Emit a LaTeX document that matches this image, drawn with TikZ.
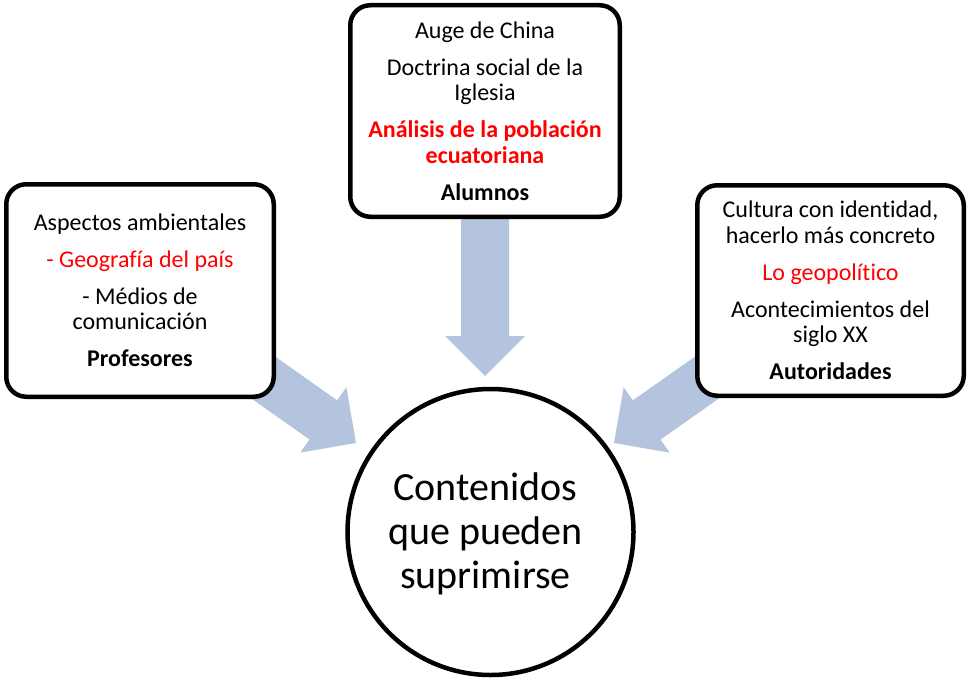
\documentclass[tikz,border=0pt]{standalone}
\usepackage{fontspec}
\setmainfont{Carlito}[Ligatures=NoCommon]
\usetikzlibrary{calc}
\pgfdeclarelayer{bg}
\pgfsetlayers{bg,main}
\definecolor{arrowblue}{RGB}{180,196,222}
\definecolor{pured}{RGB}{255,0,0}
\newcommand\blockarrowdraw[2]{%
  \coordinate (hA) at ($(#2)!40pt!(#1)$);
  \fill[blockarrow] ($(#1)!24pt!90:(#2)$) -- ($(hA)!24pt!90:(#2)$) -- ($(hA)!40pt!90:(#2)$) -- (#2)
    -- ($(hA)!40pt!-90:(#2)$) -- ($(hA)!24pt!-90:(#2)$) -- ($(#1)!24pt!-90:(#2)$) -- cycle;
}
\begin{document}
\begin{tikzpicture}[x=1pt,y=-1pt,
  box/.style={draw=black, line width=4.5pt, fill=white, rounded corners=20pt, align=center,
    font=\fontsize{24}{25.5}\selectfont, inner sep=0pt},
  hub/.style={draw=black, line width=4.5pt, fill=white, circle, inner sep=0pt, minimum size=286pt},
  hubtext/.style={align=center, font=\fontsize{40}{44}\selectfont, inner sep=0pt},
  blockarrow/.style={fill=arrowblue}]
\useasboundingbox (0,0) rectangle (968,677);

\node[box, minimum width=267.5pt, minimum height=212.5pt] (left) at (140,290.5)
  {Aspectos ambientales\\[11.5pt]
   {\color{pured}- Geografía del país}\\[11.5pt]
   - Médios de\\ comunicación\\[11.5pt]
   \textbf{Profesores}};

\node[box, minimum width=269.5pt, minimum height=211.5pt] (top) at (485,111)
  {Auge de China\\[11.5pt]
   Doctrina social de la\\ Iglesia\\[11.5pt]
   {\color{pured}\textbf{Análisis de la población}}\\ {\color{pured}\textbf{ecuatoriana}}\\[11.5pt]
   \textbf{Alumnos}};

\node[box, minimum width=266.5pt, minimum height=210.5pt] (right) at (830.5,290.5)
  {Cultura con identidad,\\ hacerlo más concreto\\[11.5pt]
   {\color{pured}Lo geopolítico}\\[11.5pt]
   Acontecimientos del\\ siglo XX\\[11.5pt]
   \textbf{Autoridades}};

\node[hub] (hub) at (490.5,532) {};
\node[hubtext] (hublabel) at ($(hub.center)+(-5,2)$) {Contenidos\\ que pueden\\ suprimirse};

\coordinate (tipT) at (485,376);
\coordinate (tipL) at (356,443);
\coordinate (tipR) at (614,443);

\begin{pgfonlayer}{bg}
  \blockarrowdraw{top.center}{tipT}
  \blockarrowdraw{left.center}{tipL}
  \blockarrowdraw{right.center}{tipR}
\end{pgfonlayer}
\end{tikzpicture}
\end{document}
